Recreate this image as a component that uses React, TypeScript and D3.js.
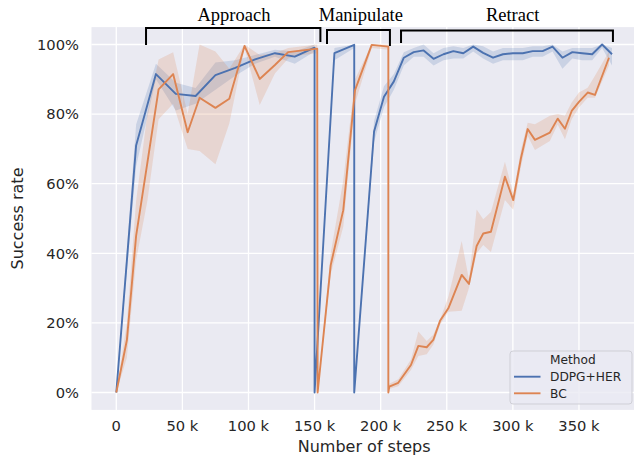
import * as React from "react";
import { area, format, line, scaleLinear } from "d3";

// steps are in thousands
const ddpgSteps = [0, 15, 30, 45, 60, 75, 90, 105, 120, 135, 150, 150, 165, 180, 180, 195, 202.5, 210, 217.5, 225, 232.5, 240, 247.5, 255, 262.5, 270, 277.5, 285, 292.5, 300, 307.5, 315, 322.5, 330, 337.5, 345, 352.5, 360, 367.5, 375];
const ddpgMean = [0, 0.71, 0.915, 0.858, 0.852, 0.912, 0.933, 0.957, 0.975, 0.965, 0.991, 0, 0.975, 0.999, 0, 0.75, 0.85, 0.894, 0.962, 0.978, 0.983, 0.959, 0.972, 0.981, 0.975, 0.994, 0.976, 0.962, 0.972, 0.975, 0.975, 0.981, 0.981, 0.994, 0.962, 0.978, 0.975, 0.972, 1.0, 0.972];
const ddpgLo = [0, 0.65, 0.9, 0.81, 0.83, 0.87, 0.91, 0.945, 0.965, 0.945, 0.98, 0, 0.955, 0.99, 0, 0.72, 0.82, 0.87, 0.94, 0.965, 0.965, 0.94, 0.955, 0.96, 0.96, 0.98, 0.96, 0.945, 0.955, 0.955, 0.955, 0.965, 0.965, 0.98, 0.93, 0.96, 0.955, 0.955, 0.99, 0.94];
const ddpgHi = [0, 0.77, 0.945, 0.89, 0.875, 0.948, 0.955, 0.97, 0.985, 0.98, 1.0, 0, 0.99, 1.0, 0, 0.78, 0.88, 0.915, 0.978, 0.99, 1.0, 0.975, 0.99, 0.995, 0.99, 1.0, 0.995, 0.98, 0.99, 0.99, 0.99, 0.995, 0.995, 1.0, 0.98, 0.99, 0.99, 0.99, 1.0, 0.99];

const bcSteps = [0, 8, 15, 23.5, 32, 43, 54, 63, 75, 85.5, 97, 108.5, 120, 130, 141, 152, 152.3, 162.2, 171.7, 180.6, 193.2, 205.8, 205.8, 206.5, 213.3, 222.9, 228.5, 234.8, 239.8, 244.9, 251.2, 261.3, 266.8, 272.6, 277.6, 283.4, 294, 300.3, 306.1, 311.2, 316.7, 328, 333.9, 339.4, 344.5, 350, 356.6, 362.1, 372.7];
const bcMean = [0, 0.15, 0.45, 0.66, 0.871, 0.915, 0.748, 0.847, 0.818, 0.844, 0.996, 0.901, 0.941, 0.978, 0.983, 0.988, 0, 0.366, 0.524, 0.869, 0.999, 0.994, 0, 0.017, 0.028, 0.079, 0.134, 0.13, 0.151, 0.206, 0.242, 0.338, 0.312, 0.421, 0.457, 0.462, 0.62, 0.553, 0.673, 0.757, 0.726, 0.747, 0.787, 0.758, 0.809, 0.835, 0.862, 0.855, 0.962];
const bcLo = [0, 0.1, 0.38, 0.55, 0.785, 0.83, 0.7, 0.694, 0.656, 0.773, 0.99, 0.826, 0.917, 0.96, 0.97, 0.975, 0, 0.34, 0.476, 0.83, 0.99, 0.985, 0, 0.01, 0.018, 0.065, 0.105, 0.11, 0.137, 0.195, 0.232, 0.235, 0.3, 0.4, 0.424, 0.404, 0.553, 0.525, 0.649, 0.737, 0.697, 0.723, 0.77, 0.728, 0.785, 0.819, 0.847, 0.847, 0.94];
const bcHi = [0, 0.2, 0.55, 0.8, 0.957, 0.978, 0.8, 1.0, 0.98, 0.93, 1.0, 0.97, 0.975, 0.99, 0.995, 1.0, 0, 0.4, 0.61, 0.9, 1.0, 1.0, 0, 0.025, 0.038, 0.095, 0.175, 0.148, 0.166, 0.21, 0.275, 0.435, 0.325, 0.526, 0.498, 0.519, 0.663, 0.572, 0.697, 0.775, 0.771, 0.795, 0.8, 0.795, 0.833, 0.862, 0.876, 0.91, 0.98];

const xTicks = [0, 50000, 100000, 150000, 200000, 250000, 300000, 350000];
const yTicks = [0, 0.2, 0.4, 0.6, 0.8, 1.0];

const phaseLabels = ["Approach", "Manipulate", "Retract"];
const phaseStart = [22500, 159400, 215400];
const phaseEnd = [154400, 207000, 375700];
const phaseLabelAt = [89000, 185000, 299800];

const methods = ["DDPG+HER", "BC"];
const colors = ["#4c72b0", "#dd8452"];

type Pt = { x: number; m: number; lo: number; hi: number };

function toPoints(steps: number[], m: number[], lo: number[], hi: number[]): Pt[] {
  return steps.map((s, i) => ({ x: s * 1000, m: m[i], lo: lo[i], hi: hi[i] }));
}

const series = [
  toPoints(ddpgSteps, ddpgMean, ddpgLo, ddpgHi),
  toPoints(bcSteps, bcMean, bcLo, bcHi),
];

export default function App() {
  const W = 634;
  const H = 457;
  const box = { left: 91.5, right: 636.8, top: 27.1, bottom: 409.9 };

  const x = scaleLinear().domain([-18750, 393750]).range([box.left, box.right]);
  const y = scaleLinear().domain([-0.05, 1.05]).range([box.bottom, box.top]);

  const mkLine = line<Pt>().x((d) => x(d.x)).y((d) => y(d.m));
  const mkBand = area<Pt>()
    .x((d) => x(d.x))
    .y0((d) => y(d.lo))
    .y1((d) => y(d.hi));

  const pct = format(".0%");
  const xLabel = (v: number) => (v === 0 ? "0" : `${v / 1000} k`);
  const tickFont = "DejaVu Sans, sans-serif";
  const textColor = "#262626";

  const bracketTop = [28, 30, 30.5];
  const bracketLeftEnd = [45, 44, 43];
  const bracketRightEnd = [42, 46, 42];

  return (
    <svg
      width={W}
      height={H}
      style={{ position: "absolute", left: 0, top: 0, background: "#fff" }}
    >
      <defs>
        <clipPath id="plot">
          <rect x={box.left} y={box.top} width={box.right - box.left} height={box.bottom - box.top} />
        </clipPath>
      </defs>
      <rect
        x={box.left}
        y={box.top}
        width={box.right - box.left}
        height={box.bottom - box.top}
        fill="#eaeaf2"
      />
      {xTicks.map((t) => (
        <line key={`gx${t}`} x1={x(t)} x2={x(t)} y1={box.top} y2={box.bottom} stroke="#fff" strokeWidth={1.3} />
      ))}
      {yTicks.map((t) => (
        <line key={`gy${t}`} x1={box.left} x2={box.right} y1={y(t)} y2={y(t)} stroke="#fff" strokeWidth={1.3} />
      ))}

      <g clipPath="url(#plot)">
        {series.map((pts, i) => (
          <path key={`band${i}`} d={mkBand(pts) || ""} fill={colors[i]} fillOpacity={0.2} stroke="none" />
        ))}
        {series.map((pts, i) => (
          <path
            key={`line${i}`}
            d={mkLine(pts) || ""}
            fill="none"
            stroke={colors[i]}
            strokeWidth={1.9}
            strokeLinejoin="round"
          />
        ))}
      </g>

      {xTicks.map((t) => (
        <text key={`xl${t}`} x={x(t)} y={431} textAnchor="middle" fontFamily={tickFont} fontSize={14.7} fill={textColor}>
          {xLabel(t)}
        </text>
      ))}
      {yTicks.map((t) => (
        <text
          key={`yl${t}`}
          x={79}
          y={y(t)}
          dy="0.36em"
          textAnchor="end"
          fontFamily={tickFont}
          fontSize={14.7}
          fill={textColor}
        >
          {pct(t)}
        </text>
      ))}
      <text x={(box.left + box.right) / 2} y={452} textAnchor="middle" fontFamily={tickFont} fontSize={16} fill={textColor}>
        Number of steps
      </text>
      <text
        transform={`translate(23, ${(box.top + box.bottom) / 2}) rotate(-90)`}
        textAnchor="middle"
        fontFamily={tickFont}
        fontSize={16}
        fill={textColor}
      >
        Success rate
      </text>

      {phaseLabels.map((label, i) => {
        const x0 = x(phaseStart[i]);
        const x1 = x(phaseEnd[i]);
        const top = bracketTop[i];
        return (
          <g key={label}>
            <path
              d={`M${x0},${bracketLeftEnd[i]}V${top}H${x1}V${bracketRightEnd[i]}`}
              fill="none"
              stroke="#000"
              strokeWidth={2}
            />
            <text
              x={x(phaseLabelAt[i])}
              y={21}
              textAnchor="middle"
              fontFamily="Liberation Serif, Times New Roman, serif"
              fontSize={18.5}
              fill="#000"
            >
              {label}
            </text>
          </g>
        );
      })}

      <g>
        <rect x={510} y={351} width={122} height={53} rx={3} fill="#eaeaf2" fillOpacity={0.8} stroke="#cfcfd6" strokeWidth={1} />
        <text x={550} y={360} dy="0.36em" fontFamily={tickFont} fontSize={12.2} fill={textColor}>
          Method
        </text>
        {methods.map((m, i) => {
          const cy = 376.7 + i * 16.6;
          return (
            <g key={m}>
              <line x1={514} x2={540.5} y1={cy} y2={cy} stroke={colors[i]} strokeWidth={1.9} />
              <text x={550} y={cy} dy="0.36em" fontFamily={tickFont} fontSize={12.2} fill={textColor}>
                {m}
              </text>
            </g>
          );
        })}
      </g>
    </svg>
  );
}
